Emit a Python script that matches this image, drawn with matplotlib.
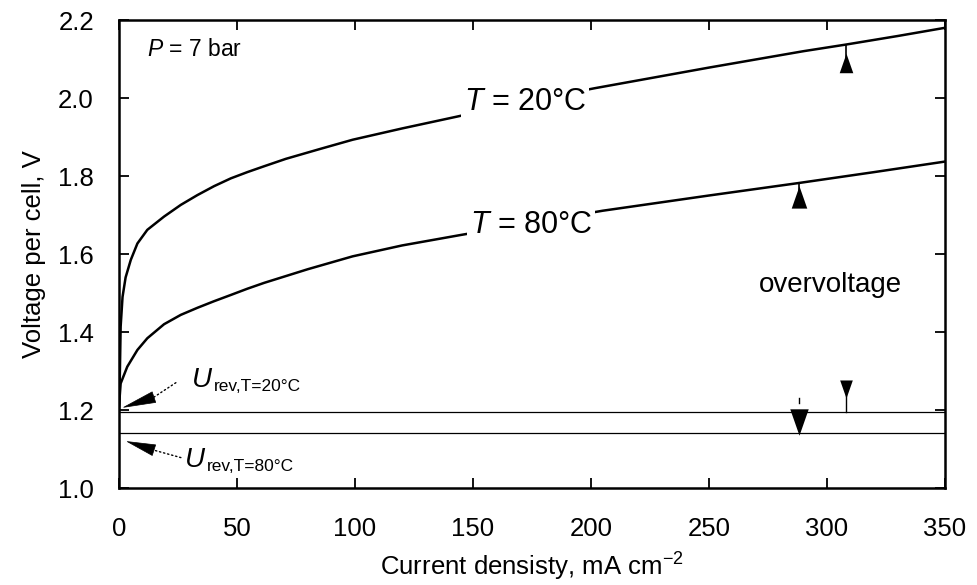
import numpy as np
import matplotlib.pyplot as plt

plt.rcParams['font.family'] = ['Liberation Sans', 'DejaVu Sans']
plt.rcParams['mathtext.fontset'] = 'custom'
plt.rcParams['mathtext.rm'] = 'Liberation Sans'
plt.rcParams['mathtext.it'] = 'Liberation Sans:italic'

# current density, mA cm-2 / cell voltage, V
j_20 = [0, 0.3, 0.7, 1.5, 2.8, 5, 7.8, 12, 19.1, 26.2, 33.2, 40.3, 47.4, 54.4,
        61.5, 70.7, 85, 99, 120, 143, 170, 201.5, 250, 290, 308, 330, 350]
v_20 = [1.20, 1.27, 1.414, 1.49, 1.54, 1.585, 1.627, 1.662, 1.696, 1.726, 1.751,
        1.774, 1.794, 1.810, 1.825, 1.844, 1.869, 1.893, 1.922, 1.952, 1.988,
        2.025, 2.078, 2.12, 2.137, 2.159, 2.18]

j_80 = [0, 0.7, 3.5, 7.8, 12, 19.1, 26.2, 33.2, 40.3, 47.4, 54.4, 61.5, 80, 99,
        120, 145, 175, 205, 250, 288, 320, 350]
v_80 = [1.21, 1.268, 1.311, 1.354, 1.384, 1.42, 1.444, 1.462, 1.479, 1.495,
        1.511, 1.526, 1.561, 1.594, 1.622, 1.649, 1.68, 1.711, 1.75, 1.782, 1.81,
        1.837]

# reversible voltages
u_rev = [1.195, 1.14]

# overvoltage arrows: x, triangle centre, stem end, size
up_x = [308, 288]
up_y = [2.091, 1.746]
up_stem = [2.137, 1.782]
up_ms = [14, 16]
dn_x = [308, 288]
dn_y = [1.254, 1.168]
dn_stem = [1.195, 1.23]
dn_ms = [13, 19]

up_tri = [(-0.7, -1), (0.7, -1), (0, 1)]
dn_tri = [(-0.7, 1), (0.7, 1), (0, -1)]

fs = 18.5

fig = plt.figure(figsize=(9.77, 5.85), dpi=100)
ax = fig.add_axes([0.1218, 0.1658, 0.8454, 0.8])

ax.plot(j_20, v_20, color='black', lw=1.8)
ax.plot(j_80, v_80, color='black', lw=1.8)
for u in u_rev:
    ax.plot([0, 350], [u, u], color='black', lw=0.9)

# arrows marking the overvoltage
for x, y, s, m in zip(up_x, up_y, up_stem, up_ms):
    ax.plot([x, x], [y, s], color='black', lw=1.2)
    ax.plot(x, y, marker=up_tri, color='black', ms=m, markeredgewidth=0)
ax.plot([dn_x[0], dn_x[0]], [dn_y[0], dn_stem[0]], color='black', lw=1.0)
ax.plot([dn_x[1], dn_x[1]], [1.217, dn_stem[1]], color='black', lw=1.0)
for x, y, m in zip(dn_x, dn_y, dn_ms):
    ax.plot(x, y, marker=dn_tri, color='black', ms=m, markeredgewidth=0)

box = dict(facecolor='white', edgecolor='none', pad=2)
ax.text(172, 1.99, r'$T$ = 20°C', fontsize=22, ha='center', va='center', bbox=box)
ax.text(174.5, 1.675, r'$T$ = 80°C', fontsize=22, ha='center', va='center', bbox=box)
ax.text(12, 2.125, r'$P$ = 7 bar', fontsize=16.5, ha='left', va='center')
ax.text(301.5, 1.52, 'overvoltage', fontsize=20, ha='center', va='center')

# reversible voltage labels: dotted leader plus solid wedge
dots = dict(arrowstyle='-', color='black', linestyle=(0, (1, 2)), lw=1.0,
            shrinkA=1, shrinkB=0)
wedge = dict(arrowstyle='wedge,tail_width=0.8,shrink_factor=0.5', fc='black',
             ec='black', lw=0.5, shrinkA=0, shrinkB=0, mutation_scale=10)
labels = [('rev,T=20°C', (31, 1.278), (24.6, 1.272), (14.8, 1.233), (2, 1.207)),
          ('rev,T=80°C', (28, 1.072), (26.8, 1.077), (14.8, 1.097), (3.5, 1.119))]
for sub, pos, lead, base, tip in labels:
    t = ax.text(pos[0], pos[1], 'U', fontsize=20, style='italic', ha='left',
                va='center')
    ax.annotate(sub, xy=(1, 0), xycoords=t, xytext=(1, -1),
                textcoords='offset points', fontsize=12.5, ha='left',
                va='bottom')
    ax.annotate('', xy=base, xytext=lead, arrowprops=dots)
    ax.annotate('', xy=tip, xytext=base, arrowprops=wedge)

ax.set_xlim(0, 350)
ax.set_ylim(1.0, 2.2)
ax.set_xticks(np.arange(0, 351, 50))
ax.set_yticks(np.arange(1.0, 2.21, 0.2))
ax.set_yticklabels(['1.0', '1.2', '1.4', '1.6', '1.8', '2.0', '2.2'])
ax.tick_params(direction='in', length=7, width=1.3, labelsize=fs,
               top=True, right=True)
ax.tick_params(axis='x', pad=21)
ax.tick_params(axis='y', pad=18)
for s in ax.spines.values():
    s.set_linewidth(1.8)

ax.set_xlabel('Current densisty, mA cm$^{-2}$', fontsize=fs, labelpad=7)
ax.set_ylabel('Voltage per cell, V', fontsize=fs, labelpad=9)

fig.savefig('out.png', dpi=100)
